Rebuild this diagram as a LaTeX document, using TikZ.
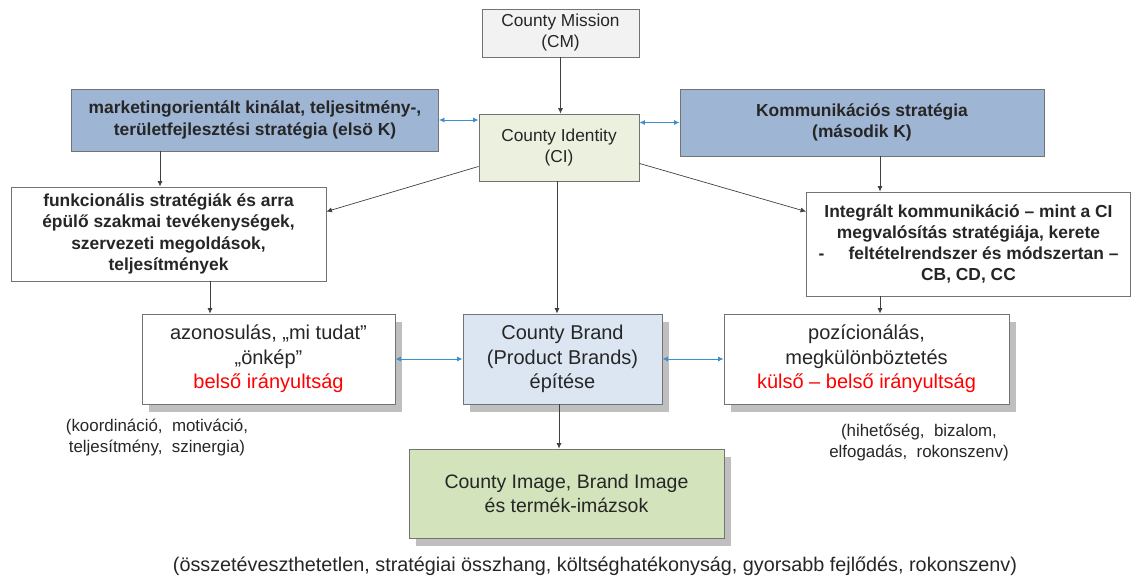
\documentclass[tikz,border=0pt]{standalone}
\usepackage{fontspec}
\setmainfont{Liberation Sans}
\usetikzlibrary{arrows.meta,shadows,calc}
\definecolor{kblue}{HTML}{9FB5D4}
\definecolor{cigreen}{HTML}{EBF1DE}
\definecolor{cbblue}{HTML}{DCE6F2}
\definecolor{imgreen}{HTML}{D3E3BB}
\definecolor{cmgrey}{HTML}{F2F2F2}
\definecolor{arrblue}{HTML}{3C8FCC}
\definecolor{txt}{HTML}{262626}
\begin{document}
\begin{tikzpicture}[x=1pt,y=-1pt,
  box/.style={draw=black!55, line width=0.9pt, inner sep=0pt, align=center, text=txt},
  shad/.style={drop shadow={shadow xshift=7pt,shadow yshift=-8pt,fill=black!25,opacity=1}},
  bigtxt/.style={font=\fontsize{20}{24.5}\selectfont},
  midtxt/.style={font=\fontsize{17.3}{21}\selectfont},
  boldtxt/.style={font=\bfseries\fontsize{17.4}{21.3}\selectfont},
  arr/.style={draw=black!75, line width=0.7pt, -{Latex[length=5.5pt,width=5pt]}},
  barr/.style={draw=arrblue, line width=0.8pt, {Latex[length=5.5pt,width=5pt]}-{Latex[length=5.5pt,width=5pt]}},
  note/.style={align=center, text=txt, font=\fontsize{16.9}{21}\selectfont, inner sep=0pt}
]
\useasboundingbox (0,0) rectangle (1133,578);

\node[box, fill=cmgrey, minimum width=157, minimum height=48, midtxt] (CM) at (560.5,33) {County Mission\\(CM)};
\node[box, fill=cigreen, minimum width=160, minimum height=67, midtxt] (CI) at (559,147.5) {County Identity\\(CI)};
\node[box, fill=kblue, minimum width=367, minimum height=62, boldtxt] (K1) at (255,120) {marketingorientált kinálat, teljesitmény-,\\területfejlesztési stratégia (elsö K)};
\node[box, fill=kblue, minimum width=364, minimum height=67, boldtxt] (K2) at (862,122.5) {Kommunikációs stratégia\\(második K)};
\node[box, fill=white, minimum width=315, minimum height=94, boldtxt] (F) at (168.5,234) {funkcionális stratégiák és arra\\épülő szakmai tevékenységek,\\szervezeti megoldások,\\teljesítmények};
\node[box, fill=white, minimum width=324, minimum height=104, boldtxt] (IK) at (968.5,244) {Integrált kommunikáció – mint a CI\\megvalósítás stratégiája, kerete\\-\hspace{1.4em}feltételrendszer és módszertan –\\CB, CD, CC};
\node[box, shad, fill=white, minimum width=253, minimum height=90, bigtxt] (AZ) at (268.5,359) {azonosulás, „mi tudat”\\„önkép”\\\textcolor{red}{belső irányultság}};
\node[box, shad, fill=cbblue, minimum width=199, minimum height=90, bigtxt] (CB) at (562.5,359) {County Brand\\(Product Brands)\\építése};
\node[box, shad, fill=white, minimum width=285, minimum height=90, bigtxt] (PZ) at (866.5,359) {pozícionálás,\\megkülönböztetés\\\textcolor{red}{külső – belső irányultság}};
\node[box, shad, fill=imgreen, minimum width=315, minimum height=89, font=\fontsize{19.5}{24}\selectfont] (IM) at (566.5,493.5) {County Image, Brand Image\\és termék-imázsok};

\node[note] (N1) at (157,437.5) {(koordináció,\ \ motiváció,\\teljesítmény,\ \ szinergia)};
\node[note] (N2) at (919,442.5) {(hihetőség,\ \ bizalom,\\elfogadás,\ \ rokonszenv)};
\node[note, font=\fontsize{19.8}{22}\selectfont] (N3) at (595,566) {(összetéveszthetetlen, stratégiai összhang, költséghatékonyság, gyorsabb fejlődés, rokonszenv)};

\draw[arr] (CM.south) -- (CM.south |- CI.north);
\draw[barr] (K1.east) -- (K1.east -| CI.west);
\draw[barr] (K2.west -| CI.east) -- (K2.west);
\draw[arr] (K1.south -| 160,0) -- (F.north -| 160,0);
\draw[arr] (K2.south -| 880,0) -- (IK.north -| 880,0);
\draw[arr] ($(CI.south west)+(0,-15)$) -- ($(F.north east)+(0,25)$);
\draw[arr] ($(CI.south east)+(0,-18)$) -- ($(IK.north west)+(0,20)$);
\draw[arr] (CI.south -| 557,0) -- (CB.north -| 557,0);
\draw[arr] (F.south -| 210,0) -- (AZ.north -| 210,0);
\draw[arr] (IK.south -| 880,0) -- (PZ.north -| 880,0);
\draw[barr] (AZ.east) -- (CB.west);
\draw[barr] (CB.east) -- (PZ.west);
\draw[arr] (CB.south -| 559,0) -- (IM.north -| 559,0);
\end{tikzpicture}
\end{document}
